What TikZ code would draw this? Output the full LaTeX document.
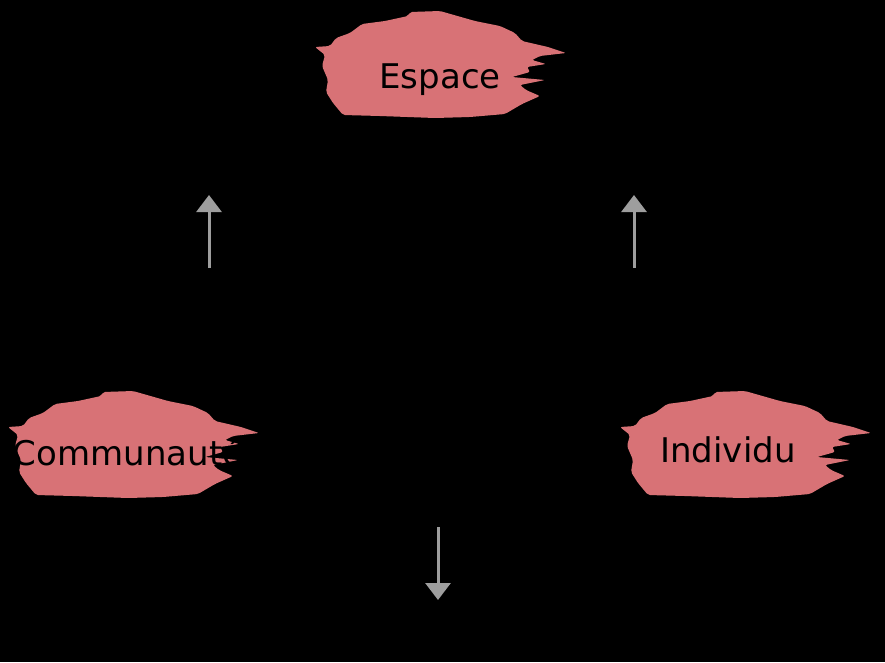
\documentclass[tikz,border=0pt]{standalone}
\usepackage{fontspec}
\setmainfont{DejaVu Sans}
\usepackage{tikz}
\usetikzlibrary{arrows.meta, positioning}
\definecolor{brushpink}{RGB}{216,114,118}
\definecolor{arrowgray}{RGB}{158,158,158}

\begin{document}
\begin{tikzpicture}[x=1pt, y=-1pt,
    every node/.style={font=\fontsize{34}{40}\selectfont, text=black},
    flow/.style={arrowgray, line width=3pt, -{Triangle[width=25pt, length=17pt]}}]
    % Background
    \fill[black] (0,0) rectangle (885,662);
    \useasboundingbox (0,0) rectangle (885,662);

    % Brush strokes: one outline, shifted to each label
    \foreach \dx/\dy in {0/0, -307/380, 305/380} {
        \fill[brushpink, rounded corners=2pt, shift={(\dx,\dy)}]
            (315,47) -- (330,46) -- (336,38) -- (350,33) -- (362,24) -- (385,21)
            -- (408,16) -- (410,12) -- (440,11) -- (475,21) -- (500,26)
            -- (515,33) -- (522,41) -- (548,47) -- (566,53) -- (540,56)
            -- (532,60) -- (546,64) -- (527,67) -- (530,72) -- (512,77)
            -- (545,80) -- (520,85) -- (526,90) -- (540,96) -- (522,104)
            -- (505,114) -- (470,117) -- (435,118) -- (380,116) -- (343,115)
            -- (333,103) -- (326,92) -- (328,80) -- (322,66) -- (325,55) -- cycle;
    }

    % Labels
    \node (espace) at (440,80) {Espace};
    \node (communaute) at (128,452) {Communauté};
    \node (individu) at (728,450) {Individu};

    % Arrow ends
    \coordinate (leftfoot) at (209,268);
    \coordinate (lefttip) at (209,195);
    \coordinate (rightfoot) at (634,268);
    \coordinate (righttip) at (634,195);
    \coordinate (downfoot) at (438,527);
    \coordinate (downtip) at (438,600);

    % Arrows
    \draw[flow] (leftfoot) -- (lefttip);
    \draw[flow] (rightfoot) -- (righttip);
    \draw[flow] (downfoot) -- (downtip);

\end{tikzpicture}
\end{document}
